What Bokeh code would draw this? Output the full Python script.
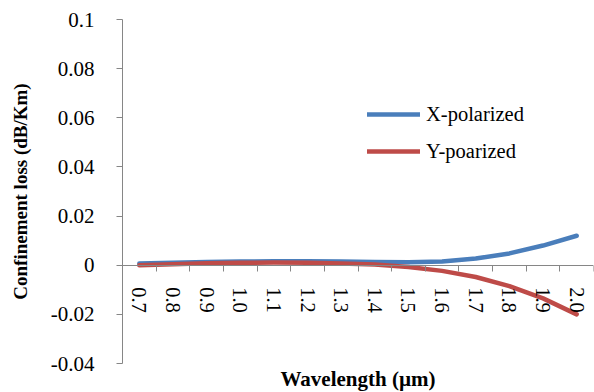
import math
from bokeh.plotting import figure
from bokeh.models import Range1d, FixedTicker, LinearAxis, Title, CustomJSTickFormatter, NumeralTickFormatter
from bokeh.embed import file_html
from bokeh.resources import INLINE

categories = ["0.7", "0.8", "0.9", "1.0", "1.1", "1.2", "1.3", "1.4", "1.5", "1.6", "1.7", "1.8", "1.9", "2.0"]
x_polarized = [0.0007, 0.0010, 0.0013, 0.0015, 0.0016, 0.0016, 0.0015, 0.0013, 0.0012, 0.0015, 0.0027, 0.0048, 0.0080, 0.0120]
y_polarized = [0.0000, 0.0004, 0.0008, 0.0010, 0.0011, 0.0010, 0.0007, 0.0003, -0.0007, -0.0023, -0.0048, -0.0085, -0.0135, -0.0200]
y_ticks = [-0.04, -0.02, 0, 0.02, 0.04, 0.06, 0.08, 0.1]

FONT = "Liberation Serif"
AXIS_GRAY = "#868686"

n = len(categories)
x_pos = [i + 0.5 for i in range(n)]
boundaries = [float(i) for i in range(n + 1)]

LOOKUP = """
let best = -1, bd = 1e9;
for (let i = 0; i < tvals.length; i++) {
  const d = Math.abs(tvals[i] - tick);
  if (d < bd) { bd = d; best = i; }
}
return (best >= 0 && bd < 1e-6) ? tlabels[best] : "";
"""

p = figure(width=594, height=392, output_backend="svg", toolbar_location=None,
           x_range=Range1d(0, n), y_range=Range1d(-0.04, 0.1),
           min_border_left=122, min_border_right=1, min_border_top=19, min_border_bottom=28)
p.outline_line_color = None
p.xgrid.visible = False
p.ygrid.visible = False
p.background_fill_color = "white"
p.border_fill_color = "white"

p.line(x_pos, x_polarized, line_color="#4A7EBB", line_width=4.5, line_cap="round", line_join="round",
       legend_label="X-polarized")
p.line(x_pos, y_polarized, line_color="#BE4B48", line_width=4.5, line_cap="round", line_join="round",
       legend_label="Y-poarized")

# y axis
ya = p.yaxis[0]
ya.ticker = FixedTicker(ticks=y_ticks)
ya.formatter = NumeralTickFormatter(format="0.[00]")
ya.axis_line_color = AXIS_GRAY
ya.major_tick_line_color = AXIS_GRAY
ya.minor_tick_line_color = None
ya.major_tick_out = 6
ya.major_tick_in = 0
ya.major_label_standoff = 22
ya.major_label_text_font = FONT
ya.major_label_text_font_size = "21px"
ya.major_label_text_font_style = "normal"
ya.major_label_text_color = "black"
ya.axis_label = "Confinement loss (dB/Km)"
ya.axis_label_text_font = FONT
ya.axis_label_text_font_size = "19px"
ya.axis_label_text_font_style = "bold"
ya.axis_label_text_color = "black"
ya.axis_label_standoff = 17

# x axis: boundary ticks at y = 0
xa = p.xaxis[0]
xa.fixed_location = 0
xa.ticker = FixedTicker(ticks=boundaries)
xa.axis_line_color = AXIS_GRAY
xa.major_tick_line_color = AXIS_GRAY
xa.minor_tick_line_color = None
xa.major_tick_out = 6
xa.major_tick_in = 0
xa.major_label_text_alpha = 0
xa.major_label_text_font_size = "1px"

# x axis: category labels at centres
la = LinearAxis(fixed_location=0, ticker=FixedTicker(ticks=x_pos))
la.formatter = CustomJSTickFormatter(args=dict(tvals=x_pos, tlabels=categories), code=LOOKUP)
la.axis_line_color = None
la.major_tick_line_color = None
la.minor_tick_line_color = None
la.major_tick_out = 0
la.major_tick_in = 0
la.major_label_standoff = 22
la.major_label_orientation = -math.pi / 2
la.major_label_text_font = FONT
la.major_label_text_font_size = "20.5px"
la.major_label_text_font_style = "normal"
la.major_label_text_color = "black"
p.add_layout(la, "below")

# x axis title
p.add_layout(Title(text="Wavelength (µm)", align="center", standoff=3,
                   text_font=FONT, text_font_size="21px", text_font_style="bold",
                   text_color="black"), "below")

lg = p.legend[0]
lg.location = (245, 200)
lg.border_line_alpha = 0
lg.background_fill_alpha = 0
lg.padding = 0
lg.margin = 0
lg.glyph_width = 53
lg.glyph_height = 24
lg.label_height = 24
lg.spacing = 13
lg.label_standoff = 6
lg.label_text_font = FONT
lg.label_text_font_size = "20.5px"
lg.label_text_color = "black"

open("out.html", "w").write(file_html(p, INLINE))
